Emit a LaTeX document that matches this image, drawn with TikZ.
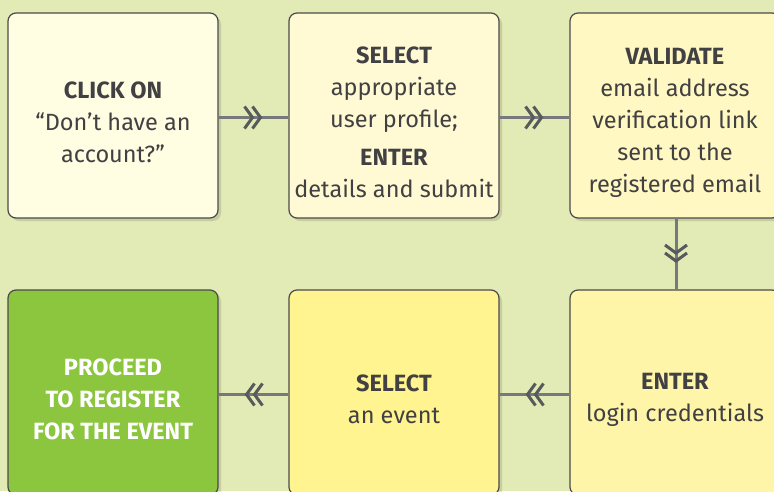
\documentclass[tikz,border=0pt]{standalone}
\usepackage{fontspec}
\setmainfont{Fira Sans}
\usetikzlibrary{decorations.markings,shadows}
\definecolor{bgc}{HTML}{E2EBB6}
\definecolor{fa}{HTML}{FFFDE2}
\definecolor{fb}{HTML}{FFFAD3}
\definecolor{fc}{HTML}{FFF8C2}
\definecolor{fd}{HTML}{8CC63F}
\definecolor{fe}{HTML}{FFF48F}
\definecolor{ff}{HTML}{FFF5A8}
\definecolor{txt}{HTML}{414042}
\definecolor{edge}{HTML}{4A4A4A}
\definecolor{linec}{HTML}{77787B}
\definecolor{chevc}{HTML}{58595B}
\tikzset{
  box/.style={draw=edge, line width=1.2pt, rounded corners=8pt,
    minimum width=210pt, minimum height=205pt, inner sep=0pt,
    drop shadow={shadow xshift=3pt, shadow yshift=-3pt, opacity=0.12, fill=black}},
  label text/.style={align=center, text=txt, inner sep=0pt, yshift=-7pt,
    font=\fontsize{23.5}{32}\selectfont},
  conn/.style={draw=linec, line width=3pt,
    postaction={decorate},
    decoration={markings, mark=at position 0.5 with {
      \draw[chevc, line width=3pt, miter limit=10]
        (-9,-11) -- (-1,0) -- (-9,11)
        (-1,-11) -- (7,0) -- (-1,11);}}}
}
\begin{document}
\begin{tikzpicture}[x=1pt,y=-1pt]
\fill[bgc] (0,0) rectangle (774,491);
\useasboundingbox (0,0) rectangle (774,491);
\node[box, fill=fa] (b1) at (113,115.5) {};
\node[box, fill=fb] (b2) at (394,115.5) {};
\node[box, fill=fc] (b3) at (675,115.5) {};
\node[box, fill=fd] (b4) at (113,392.5) {};
\node[box, fill=fe] (b5) at (394,392.5) {};
\node[box, fill=ff] (b6) at (675,392.5) {};
\node[label text] (t1) at (b1.center) {\textbf{CLICK ON}\\“Don’t have an\\account?”};
\node[label text] (t2) at (b2.center) {\textbf{SELECT}\\appropriate\\user profile;\\[6pt]\textbf{ENTER}\\details and submit};
\node[label text] (t3) at (b3.center) {\textbf{VALIDATE}\\email address\\verification link\\sent to the\\registered email};
\node[label text, text=white] (t4) at (b4.center) {\textbf{PROCEED}\\\textbf{TO REGISTER}\\\textbf{FOR THE EVENT}};
\node[label text] (t5) at (b5.center) {\textbf{SELECT}\\an event};
\node[label text] (t6) at (b6.center) {\textbf{ENTER}\\login credentials};
\path[conn] ([yshift=-2pt]b1.east) -- ([yshift=-2pt]b2.west);
\path[conn] ([yshift=-2pt]b2.east) -- ([yshift=-2pt]b3.west);
\path[conn] ([xshift=1pt]b3.south) -- ([xshift=1pt]b6.north);
\path[conn] ([yshift=-2pt]b6.west) -- ([yshift=-2pt]b5.east);
\path[conn] ([yshift=-2pt]b5.west) -- ([yshift=-2pt]b4.east);
\end{tikzpicture}
\end{document}
